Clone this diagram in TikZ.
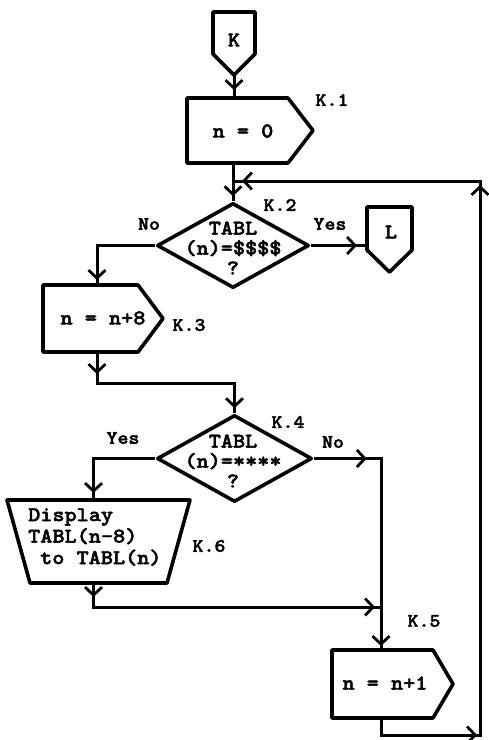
\documentclass[tikz,border=0pt]{standalone}
\usepackage{fontspec}
\newfontfamily\typeb{lmmonolt10-bold.otf}[FakeStretch=1.1, FakeBold=2]
\usetikzlibrary{arrows.meta,decorations.markings,shapes.geometric,calc}

% process box with a pointed right end; #2 = depth of the point
\newcommand\procshape[2]{%
  \draw[outline] (#1.north west) -- ($(#1.north east)+(-#2,0)$) -- (#1.east)
    -- ($(#1.south east)+(-#2,0)$) -- (#1.south west) -- cycle;}
% off-page connector: box with a point below; #2 = depth of the point
\newcommand\offpage[2]{%
  \draw[outline] (#1.north west) -- (#1.north east) -- (#1.south east)
    -- ($(#1.south)+(0,#2)$) -- (#1.south west) -- cycle;}

\begin{document}
\begin{tikzpicture}[x=1pt,y=-1pt,
  outline/.style={line width=3.6pt, line join=round},
  frame/.style={draw=none, inner sep=0pt, outer sep=0pt},
  decision/.style={diamond, draw, line width=3.6pt, line join=round, inner sep=0pt},
  flow/.style={line width=3pt},
  tipat/.style={postaction={decorate, decoration={markings,
      mark=at position #1 with {\arrow[line width=2.8pt]{Straight Barb[length=8pt,width=17pt]}}}}},
  txt/.style={font=\typeb\fontsize{21}{20}\selectfont, inner sep=0pt},
  tag/.style={font=\typeb\fontsize{19}{20}\selectfont, inner sep=0pt}]

\fill[white] (0,0) rectangle (488,740);
\useasboundingbox (0,0) rectangle (488,740);

% entry connector K
\node[frame, minimum width=42pt, minimum height=42pt] (kk) at (234,33) {};
\coordinate (kk-tip) at ($(kk.south)+(0,21)$);
\offpage{kk}{21}
\node[txt] (kk-t) at (234,40) {K};

% K.1
\node[frame, minimum width=126pt, minimum height=65pt] (k1) at (250,130.5) {};
\procshape{k1}{25}
\node[txt] (k1-t) at (243,131) {n = 0};
\node[tag] (k1-l) at (332,100) {K.1};

% K.2
\node[decision, minimum width=152pt, minimum height=85pt] (d2) at (233,245.5) {};
\node[txt, align=center] (d2-t) at (233,248) {TABL\\(n)=\$\$\$\$\\?};
\node[tag] (d2-l) at (280,205) {K.2};
\node[tag] (d2-no) at (149,224) {No};
\node[tag] (d2-yes) at (330,224) {Yes};

% exit connector L
\node[frame, minimum width=45pt, minimum height=43pt] (L) at (389.5,228.5) {};
\offpage{L}{22}
\node[txt] (L-t) at (391,232) {L};

% K.3
\node[frame, minimum width=120pt, minimum height=67pt] (k3) at (103,318.5) {};
\procshape{k3}{25}
\node[txt] (k3-t) at (103,318) {n = n+8};
\node[tag] (k3-l) at (189,325) {K.3};

% K.4
\node[decision, minimum width=155pt, minimum height=87pt] (d4) at (234.5,458.5) {};
\node[txt, align=center] (d4-t) at (233,461) {TABL\\(n)=****\\?};
\node[tag] (d4-l) at (288,422) {K.4};
\node[tag] (d4-yes) at (123,438) {Yes};
\node[tag] (d4-no) at (333,442) {No};

% K.6 display
\node[frame, minimum width=183pt, minimum height=83pt] (k6) at (98.5,541.5) {};
\draw[outline] (k6.north west) -- (k6.north east) -- ($(k6.south east)+(-23,0)$)
  -- ($(k6.south west)+(23,0)$) -- cycle;
\node[txt, align=left, anchor=west] (k6-t) at (28,537)
  {Display\\[1.5pt]TABL(n-8)\\[1.5pt]\hspace*{12pt}to TABL(n)};
\node[tag] (k6-l) at (209,546) {K.6};

% K.5
\node[frame, minimum width=121pt, minimum height=68pt] (k5) at (392.5,684) {};
\procshape{k5}{20}
\node[txt] (k5-t) at (385,683) {n = n+1};
\node[tag] (k5-l) at (424,621) {K.5};

% connectors
\coordinate (merge) at (381,607);
\coordinate (ret) at (233,181);
\draw[flow, tipat=-8pt] (kk-tip) -- (kk-tip |- k1.north);
\draw[flow, tipat=-5pt] (d2.north |- k1.south) -- (d2.north);
\draw[flow, tipat=-10pt] (d2.east) -- (d2.east -| L.west);
\draw[flow, tipat=-5pt] (d2.west) -| ([xshift=-6pt]k3.north);
\draw[flow, tipat=22pt, tipat=-5pt] ([xshift=-6pt]k3.south) -- ++(0,31) -| (d4.north);
\draw[flow, tipat=-7pt] (d4.west) -| ([xshift=-5pt]k6.north);
\draw[flow, tipat=53pt, tipat=-4pt] (d4.east) -| ([xshift=-11.5pt]k5.north);
\draw[flow, tipat=14pt, tipat=-6pt] ([xshift=-5pt]k6.south) |- (merge);
\draw[flow, tipat=113pt, tipat=666pt, tipat=-9pt]
  ([xshift=-11.5pt]k5.south) -- ++(0,17) -| ($(ret)+(247,0)$) -- (ret);

\end{tikzpicture}
\end{document}
